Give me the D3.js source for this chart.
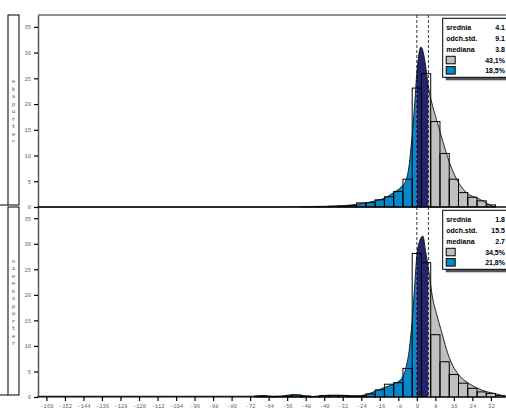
<!DOCTYPE html>
<html>
<head>
<meta charset="utf-8">
<style>
    body { margin: 0; overflow: hidden; background: #fff; }
    svg { display: block; }
    .tick text { font-family: "Liberation Mono", monospace; font-size: 5.5px; fill: #666; }
    .y .tick line, .x .tick line { stroke: #000; stroke-width: 1.2; }
    .y .domain { stroke: #555; stroke-width: 1.5; }
    .x .domain { stroke: #000; }
    .legend text { font-family: "Liberation Sans", Arial, sans-serif; font-size: 7px; font-weight: bold; fill: #000; }
    .side { font-family: "Liberation Mono", monospace; font-size: 6px; fill: #555; }
</style>
</head>
<body>
<svg width="506" height="411"></svg>

<script src="https://d3js.org/d3.v7.min.js"></script>
<script>
// tick values
let xTicks = [-160, -152, -144, -136, -128, -120, -112, -104, -96, -88, -80, -72, -64, -56, -48, -40, -32, -24, -16, -8, 0, 8, 16, 24, 32];
let yTicks = [0, 5, 10, 15, 20, 25, 30, 35];
let bands = [0, 5]; // dashed lines / colour change

// eksporter: histogram (bin centre, height) and smooth density
let expBins   = [-48, -44, -40, -36, -32, -28, -24, -20, -16, -12, -8, -4, 0, 4, 8, 12, 16, 20, 24, 28, 32];
let expCounts = [0.05, 0.1, 0.1, 0.15, 0.2, 0.3, 0.8, 0.85, 1.4, 2.0, 3.0, 5.4, 23.1, 25.9, 16.6, 10.4, 5.4, 2.8, 1.9, 1.2, 0.4];
let expCurveX = [-164, -60, -50, -44, -38, -32, -28, -25, -22, -18, -14, -10, -6.8, -4.6, -3.2, -2.2, -1, 0, 1, 1.8, 2.8, 3.6, 5, 6.9, 8.5, 10.3, 14.2, 18.2, 22.3, 26.3, 30.4, 32.5, 34];
let expCurveY = [0, 0, 0.05, 0.1, 0.15, 0.25, 0.4, 0.6, 0.8, 1.2, 1.7, 2.8, 3.9, 5.3, 8.5, 13.0, 19.5, 26.0, 30.0, 31.1, 30.0, 28.0, 23.4, 19.5, 17.0, 14.2, 8.5, 4.6, 2.5, 1.7, 0.7, 0.2, 0];

// nieeksporter
let nieBins   = [-68, -64, -60, -56, -52, -48, -44, -40, -36, -32, -28, -24, -20, -16, -12, -8, -4, 0, 4, 8, 12, 16, 20, 24, 28, 32, 36];
let nieCounts = [0.2, 0.1, 0.1, 0.2, 0.4, 0.2, 0.1, 0.3, 0.3, 0.3, 0.2, 0.2, 0.6, 1.4, 2.5, 2.8, 5.6, 28.1, 26.3, 12.2, 6.9, 4.4, 2.7, 1.7, 1.0, 0.7, 0.3];
let nieCurveX = [-164, -120, -80, -70, -66, -62, -58, -54, -50, -46, -42, -38, -34, -30, -26, -22.6, -17.6, -14.3, -10.2, -6.8, -4.6, -3.2, -2.2, -1, 0, 1.2, 2.6, 3.8, 5, 6.9, 8.5, 10.3, 14.2, 18.2, 22.3, 26.3, 30.4, 34.5, 38.4, 40];
let nieCurveY = [0.15, 0.15, 0.15, 0.15, 0.3, 0.15, 0.2, 0.45, 0.3, 0.1, 0.2, 0.35, 0.35, 0.3, 0.2, 0.4, 1.2, 1.8, 2.5, 3.5, 5.9, 9.5, 14.0, 21.2, 27.7, 30.5, 31.5, 28.5, 25.1, 19.2, 16.3, 13.4, 7.5, 4.3, 2.7, 1.7, 1.0, 0.6, 0.1, 0];

// legend texts
let statLabels = ["srednia", "odch.std.", "mediana"];
let expStats = ["4.1", "9.1", "3.8"];
let expShares = ["43,1%", "18,5%"];
let nieStats = ["1.8", "15.5", "2.7"];
let nieShares = ["34,5%", "21,8%"];

let blue = "#0a87c8", navy = "#23236e", grey = "#c0c0c0";

let svg = d3.select("svg");
let left = 38, right = 506;

let x = d3.scaleLinear().domain([-160, 32]).range([46.4, 490.9]);

let clips = [
    { id: "cBlue", x0: left, x1: x(bands[0]), fill: blue },
    { id: "cNavy", x0: x(bands[0]), x1: x(bands[1]), fill: navy },
    { id: "cGrey", x0: x(bands[1]), x1: right, fill: grey }
];
let defs = svg.append("defs");
clips.forEach(c => {
    defs.append("clipPath").attr("id", c.id)
        .append("rect").attr("x", c.x0).attr("y", 0).attr("width", c.x1 - c.x0).attr("height", 411);
});

function panel(top, bottom, yMax, bins, counts, cx, cy, stats, shares, word) {
    let y = d3.scaleLinear().domain([0, yMax]).range([bottom, top]);
    let g = svg.append("g");
    let pts = cx.map((v, i) => [v, cy[i]]);

    let area = d3.area().x(d => x(d[0])).y0(y(0)).y1(d => y(d[1])).curve(d3.curveMonotoneX);
    clips.forEach(c => {
        g.append("path").datum(pts).attr("d", area)
            .attr("clip-path", `url(#${c.id})`).attr("fill", c.fill);
    });

    g.append("g").selectAll("rect")
        .data(bins)
        .join("rect")
        .attr("x", d => x(d - 2))
        .attr("width", d => x(d + 2) - x(d - 2))
        .attr("y", (d, i) => y(counts[i]))
        .attr("height", (d, i) => y(0) - y(counts[i]))
        .attr("fill", "none")
        .attr("stroke", "#000")
        .attr("stroke-width", 1);

    let line = d3.line().x(d => x(d[0])).y(d => y(d[1])).curve(d3.curveMonotoneX);
    g.append("path").datum(pts).attr("d", line)
        .attr("fill", "none").attr("stroke", "#111").attr("stroke-width", 0.9);

    g.selectAll("line.band")
        .data(bands)
        .join("line")
        .attr("class", "band")
        .attr("x1", d => x(d)).attr("x2", d => x(d))
        .attr("y1", top).attr("y2", bottom)
        .attr("stroke", "#000").attr("stroke-width", 0.8)
        .attr("stroke-dasharray", "3,2");

    // frame top
    g.append("line").attr("x1", left).attr("x2", right).attr("y1", top).attr("y2", top)
        .attr("stroke", "#222").attr("stroke-width", 1);

    g.append("g")
        .attr("class", "y axis")
        .attr("transform", `translate(${left},0)`)
        .call(d3.axisLeft(y).tickValues(yTicks).tickSize(4).tickPadding(3).tickSizeOuter(0));

    // side label box
    svg.append("rect").attr("x", 8).attr("y", top).attr("width", 11).attr("height", bottom - top - 2)
        .attr("fill", "#fff").attr("stroke", "#000");
    svg.append("line").attr("x1", 0).attr("x2", 8).attr("y1", bottom - 2).attr("y2", bottom - 2)
        .attr("stroke", "#000");
    let letters = word.split("");
    let mid = (top + bottom) / 2;
    svg.selectAll(null)
        .data(letters)
        .join("text")
        .attr("class", "side")
        .attr("x", 13.5)
        .attr("y", (d, i) => mid + (i - (letters.length - 1) / 2) * 7.5 + 2)
        .attr("text-anchor", "middle")
        .text(d => d);

    // legend
    let lg = svg.append("g").attr("class", "legend").attr("transform", `translate(442.7,${top + 3.3})`);
    lg.append("rect").attr("x", 3).attr("y", 3).attr("width", 80).attr("height", 59).attr("fill", "#555");
    lg.append("rect").attr("x", 0).attr("y", 0).attr("width", 80).attr("height", 59)
        .attr("fill", "#fff").attr("stroke", "#000");
    statLabels.forEach((s, i) => {
        lg.append("text").attr("x", 3.5).attr("y", 12 + i * 11).text(s);
        lg.append("text").attr("x", 62.3).attr("y", 12 + i * 11).attr("text-anchor", "end").text(stats[i]);
    });
    [grey, blue].forEach((c, i) => {
        lg.append("rect").attr("x", 3.5).attr("y", 38 + i * 10.3).attr("width", 9).attr("height", 7.5)
            .attr("fill", c).attr("stroke", "#000");
        lg.append("text").attr("x", 62.3).attr("y", 44.5 + i * 10.3).attr("text-anchor", "end").text(shares[i]);
    });
    return y;
}

panel(15, 207, 37.3, expBins, expCounts, expCurveX, expCurveY, expStats, expShares, "eksporter");
panel(207, 397, 37.2, nieBins, nieCounts, nieCurveX, nieCurveY, nieStats, nieShares, "nieeksporter");

// baseline of top panel
svg.append("line").attr("x1", left).attr("x2", right).attr("y1", 207).attr("y2", 207)
    .attr("stroke", "#000").attr("stroke-width", 1.2);

svg.append("g")
    .attr("class", "x axis")
    .attr("transform", `translate(0,397)`)
    .call(d3.axisBottom(x).tickValues(xTicks).tickSize(4).tickPadding(3).tickSizeOuter(0)
        .tickFormat(d => String(d)))
    .select(".domain").attr("d", `M${left},0H${right}`);
</script>
</body>
</html>
